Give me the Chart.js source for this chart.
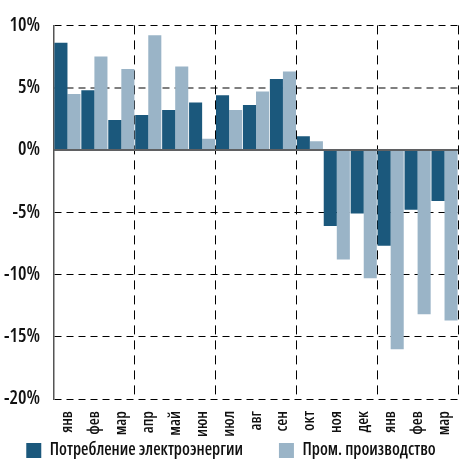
<!DOCTYPE html>
<html>
<head>
<meta charset="utf-8">
<script src="https://cdn.jsdelivr.net/npm/chart.js@4"></script>
<style>
  html, body { margin: 0; padding: 0; background: #fff; }
  #wrap { width: 459px; height: 461px; }
</style>
</head>
<body>
<div id="wrap"><canvas id="power_chart"></canvas></div>
<script>
// месяцы и значения
const months = ['янв', 'фев', 'мар', 'апр', 'май', 'июн', 'июл', 'авг', 'сен', 'окт', 'ноя', 'дек', 'янв', 'фев', 'мар'];
const powerUse = [8.6, 4.8, 2.4, 2.8, 3.2, 3.8, 4.4, 3.6, 5.7, 1.1, -6.1, -5.1, -7.7, -4.8, -4.1];
const industry = [4.5, 7.5, 6.5, 9.2, 6.7, 0.9, 3.2, 4.7, 6.3, 0.7, -8.8, -10.3, -16.0, -13.2, -13.7];
const seriesNames = ['Потребление электроэнергии', 'Пром. производство'];
const yTicks = [-20, -15, -10, -5, 0, 5, 10];

const FONT = '"Open Sans", sans-serif';

// нулевая линия поверх столбцов
const zeroLine = {
  id: 'zeroLine',
  afterDatasetsDraw(chart) {
    const y = chart.scales.y.getPixelForValue(0);
    const a = chart.chartArea;
    const ctx = chart.ctx;
    ctx.save();
    ctx.strokeStyle = '#5f6062';
    ctx.lineWidth = 2;
    ctx.beginPath();
    ctx.moveTo(a.left, y);
    ctx.lineTo(a.right, y);
    ctx.stroke();
    ctx.restore();
  }
};

const data = {
  labels: months,
  datasets: [{
    label: seriesNames[0],
    data: powerUse,
    backgroundColor: '#1b587c'
  }, {
    label: seriesNames[1],
    data: industry,
    backgroundColor: '#9ab4c7'
  }]
};

const config = {
  type: 'bar',
  data: data,
  plugins: [zeroLine],
  options: {
    responsive: true,
    maintainAspectRatio: false,
    animation: false,
    datasets: {
      bar: { categoryPercentage: 0.97, barPercentage: 1 }
    },
    layout: { padding: { top: 10, left: 4, right: 1, bottom: -8 } },
    plugins: {
      tooltip: { enabled: false },
      legend: {
        position: 'bottom',
        labels: {
          boxWidth: 15,
          boxHeight: 15,
          padding: 2,
          color: '#111',
          font: { family: FONT, size: 17, weight: '600 condensed' },
          generateLabels: function(chart) {
            const items = Chart.defaults.plugins.legend.labels.generateLabels(chart);
            // шире промежуток между пунктами, как на картинке
            items[0].text = items[0].text + '\u2003\u2003';
            return items;
          }
        }
      }
    },
    scales: {
      x: {
        afterFit: function(scale) {
          scale.paddingLeft = 0;
          scale.paddingRight = 0;
          scale.height = 41;
        },
        ticks: {
          minRotation: 90,
          maxRotation: 90,
          padding: 12,
          color: '#111',
          font: { family: FONT, size: 16, weight: '600 condensed' }
        },
        grid: {
          offset: true,
          drawTicks: false,
          lineWidth: 1,
          color: function(ctx) {
            if (ctx.type === 'scale') return '#000';
            return (ctx.index > 0 && ctx.index % 3 === 0) ? '#000' : 'rgba(0,0,0,0)';
          }
        },
        border: { display: false, dash: [9, 6] }
      },
      y: {
        min: -20,
        max: 10,
        afterBuildTicks: function(scale) {
          scale.ticks = yTicks.map(v => ({ value: v }));
        },
        afterFit: function(scale) {
          scale.width = 50;
        },
        ticks: {
          padding: 14,
          color: '#111',
          font: { family: FONT, size: 19, weight: '600 condensed' },
          callback: v => v + '%'
        },
        grid: {
          drawTicks: false,
          color: function(ctx) {
            const v = ctx.tick ? ctx.tick.value : null;
            if (v === 0) return 'rgba(0,0,0,0)';
            if (v === 5) return 'rgba(0,0,0,0.5)';
            return '#000';
          },
          lineWidth: function(ctx) {
            return (ctx.tick && ctx.tick.value === 5) ? 2 : 1;
          }
        },
        border: { display: true, color: '#555', width: 1.5, dash: [7, 5] }
      }
    }
  }
};

new Chart(document.getElementById('power_chart'), config);
</script>
</body>
</html>
